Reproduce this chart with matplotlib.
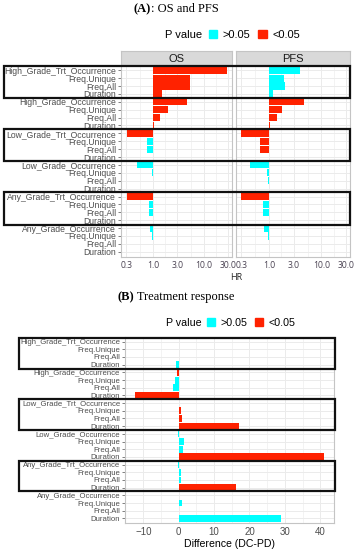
import numpy as np
import matplotlib
matplotlib.use("Agg")
import matplotlib.pyplot as plt
from matplotlib.patches import Patch, Rectangle
from matplotlib.transforms import blended_transform_factory

# ---- data ----
row_labels = [
    "High_Grade_Trt_Occurrence", "Freq.Unique", "Freq.All", "Duration",
    "High_Grade_Occurrence", "Freq.Unique", "Freq.All", "Duration",
    "Low_Grade_Trt_Occurrence", "Freq.Unique", "Freq.All", "Duration",
    "Low_Grade_Occurrence", "Freq.Unique", "Freq.All", "Duration",
    "Any_Grade_Trt_Occurrence", "Freq.Unique", "Freq.All", "Duration",
    "Any_Grade_Occurrence", "Freq.Unique", "Freq.All", "Duration",
]
os_hr = [28.0, 5.4, 5.4, 1.5, 4.6, 2.0, 1.35, 1.05,
         0.31, 0.77, 0.77, 0.99, 0.49, 0.94, 1.02, 1.01,
         0.31, 0.82, 0.82, 1.01, 0.86, 0.97, 1.02, 1.01]
os_sig = [1, 1, 1, 1, 1, 1, 1, 1,
          1, 0, 0, 0, 0, 0, 0, 0,
          1, 0, 0, 0, 0, 0, 0, 0]
pfs_hr = [3.9, 1.97, 2.05, 1.2, 4.6, 1.75, 1.45, 1.03,
          0.29, 0.69, 0.69, 0.99, 0.43, 0.91, 0.95, 1.01,
          0.29, 0.76, 0.76, 1.01, 0.81, 0.95, 0.99, 1.01]
pfs_sig = [0, 0, 0, 0, 1, 1, 1, 1,
           1, 1, 1, 1, 0, 0, 0, 0,
           1, 0, 0, 0, 0, 0, 0, 0]
diff = [0.2, 0.2, 0.2, -0.8, -0.5, -1.1, -1.5, -12.4,
        0.2, 0.75, 0.8, 16.9, -0.1, 1.4, 1.2, 41.2,
        -0.1, 0.6, 0.6, 16.2, 0.05, 0.9, 0.05, 29.0]
diff_sig = [0, 0, 0, 0, 1, 0, 0, 1,
            0, 1, 1, 1, 0, 0, 0, 1,
            0, 0, 0, 1, 0, 0, 0, 0]
boxed_groups = [(0, 3), (8, 11), (16, 19)]
hr_ticks = [0.3, 1.0, 3.0, 10.0, 30.0]
diff_ticks = [-10, 0, 10, 20, 30, 40]

CYAN = "#00FFFF"
RED = "#FF2200"
GRID = "#EBEBEB"
BORDER = "#C4C4C4"
GREY_TXT = "#4D4D4D"

W, H = 357, 550
fig = plt.figure(figsize=(W / 100, H / 100), dpi=100)


def px(l, t, r, b):
    return [l / W, 1 - b / H, (r - l) / W, (b - t) / H]


def bold_title(x_center, y, bold, rest, size=9):
    r = fig.canvas.get_renderer()
    t1 = fig.text(0, 1 - y / H, bold, fontsize=size, fontweight="bold",
                  family="Liberation Serif", va="center")
    t2 = fig.text(0, 1 - y / H, rest, fontsize=size,
                  family="Liberation Serif", va="center")
    w1 = t1.get_window_extent(r).width
    w2 = t2.get_window_extent(r).width
    x0 = x_center - (w1 + w2) / 2
    t1.set_x(x0 / W)
    t2.set_x((x0 + w1) / W)


def legend(x_txt, x_keys, y, size):
    fig.text(x_txt / W, 1 - y / H, "P value", fontsize=size,
             family="Liberation Sans", va="center")
    fig.legend(handles=[Patch(color=CYAN), Patch(color=RED)],
               labels=[">0.05", "<0.05"], ncol=2, loc="center left",
               bbox_to_anchor=(x_keys / W, 1 - y / H), frameon=False,
               prop={"family": "Liberation Sans", "size": size},
               handlelength=0.75, handleheight=0.75, handletextpad=0.5,
               columnspacing=0.7, borderpad=0, borderaxespad=0)


def style(ax):
    for s in ax.spines.values():
        s.set_color(BORDER)
        s.set_linewidth(0.8)
    ax.set_axisbelow(True)
    ax.grid(which="major", color=GRID, lw=0.7)
    ax.grid(which="minor", axis="x", color=GRID, lw=0.4)
    ax.set_ylim(len(row_labels) - 0.4, -0.6)


def draw_boxes(ax, x0, x1, pad):
    tr = blended_transform_factory(fig.transFigure, ax.transData)
    for a, b in boxed_groups:
        fig.add_artist(Rectangle((x0 / W, a - pad), (x1 - x0) / W, b - a + 2 * pad,
                                 transform=tr, fill=False, ec="#111111", lw=1.6,
                                 zorder=5))


y = np.arange(len(row_labels))

# ---- panel A ----
bold_title(176, 9, "(A)", ": OS and PFS")
legend(165, 209, 35, 8)

panels = [("OS", os_hr, os_sig, 121, 232), ("PFS", pfs_hr, pfs_sig, 236, 350)]
axA = []
for name, hr, sig, l, r in panels:
    strip = fig.add_axes(px(l, 51, r, 65.5))
    strip.set_facecolor("#D9D9D9")
    strip.set_xticks([]); strip.set_yticks([])
    for s in strip.spines.values():
        s.set_color(BORDER); s.set_linewidth(0.8)
    strip.text(0.5, 0.45, name, ha="center", va="center", fontsize=8,
               family="Liberation Sans", color="#1A1A1A", transform=strip.transAxes)

    ax = fig.add_axes(px(l, 65.5, r, 256.5))
    hr = np.array(hr)
    cols = [RED if s else CYAN for s in sig]
    ax.barh(y, hr - 1, left=1, height=0.9, color=cols)
    ax.set_xscale("log")
    ax.set_xlim(0.236, 35.4)
    ax.set_xticks(hr_ticks)
    ax.set_xticklabels([f"{t:.1f}" for t in hr_ticks])
    ax.set_xticks([np.sqrt(a * b) for a, b in zip(hr_ticks[:-1], hr_ticks[1:])], minor=True)
    ax.tick_params(axis="x", which="both", length=0, pad=3, labelsize=6.2,
                   labelcolor="#4A4252")
    for lab in ax.get_xticklabels():
        lab.set_family("Open Sans")
    style(ax)
    ax.set_yticks(y)
    if name == "OS":
        ax.set_yticklabels(row_labels, family="Liberation Sans", fontsize=6.2,
                           color=GREY_TXT)
        ax.tick_params(axis="y", length=2, width=0.5, color=GREY_TXT, pad=1.5)
    else:
        ax.tick_params(axis="y", length=0, labelleft=False)
    axA.append(ax)

fig.text(236 / W, 1 - 277 / H, "HR", ha="center", va="center", fontsize=6.5,
         family="Open Sans", color="#222222")
draw_boxes(axA[0], 3.5, 349.5, 0.55)

# ---- panel B ----
bold_title(176, 297, "(B)", " Treatment response")
legend(166, 207, 323, 7.7)

axB = fig.add_axes(px(125, 337, 334, 523))
cols = [RED if s else CYAN for s in diff_sig]
axB.barh(y, diff, height=0.9, color=cols)
axB.set_xlim(-15.2, 43.9)
axB.set_xticks(diff_ticks)
axB.set_xticks([t + 5 for t in diff_ticks[:-1]], minor=True)
axB.tick_params(axis="x", which="both", length=0, pad=3, labelsize=7,
                labelcolor=GREY_TXT)
for lab in axB.get_xticklabels():
    lab.set_family("Liberation Sans")
style(axB)
axB.set_yticks(y)
axB.set_yticklabels(row_labels, family="Liberation Sans", fontsize=5.6, color=GREY_TXT)
axB.tick_params(axis="y", length=2, width=0.5, color=GREY_TXT, pad=1.5)
axB.set_xlabel("Difference (DC-PD)", family="Liberation Sans", fontsize=7.6,
               labelpad=1)
draw_boxes(axB, 18.5, 335, 0.5)

fig.savefig("out.png", dpi=100)
